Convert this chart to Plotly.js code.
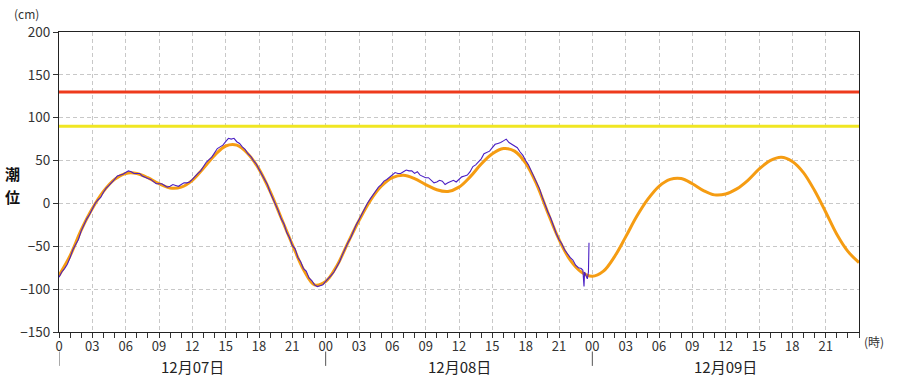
<!DOCTYPE html>
<html>
<head>
<meta charset="utf-8">
<script src="https://cdn.plot.ly/plotly-3.0.1.min.js"></script>
<style>html,body{margin:0;padding:0;background:#fff;}#chart{width:911px;height:381px;}</style>
</head>
<body>
<div id="chart"></div>
<script>
// hours from 12/07 00:00
const predHours = [0,1,2,3,4,5,6,7,8,9,10,11,12,13,14,15,16,17,18,19,20,21,22,23,24,25,26,27,28,29,30,31,32,33,34,35,36,37,38,39,40,41,42,43,44,45,46,47,48,49,50,51,52,53,54,55,56,57,58,59,60,61,62,63,64,65,66,67,68,69,70,71,72];
const predicted = [-84,-61,-31,-6,14,28,35,35,30,23,18,19,27,41,56,67,68,58,40,14,-17,-48,-77,-95,-91,-73,-46,-20,3,20,30,33,29,22,16,14,19,31,46,58,64,61,47,22,-11,-42,-66,-80,-85,-79,-62,-39,-15,5,20,28,29,23,15,10,11,17,27,40,50,54,49,36,15,-10,-36,-56,-69];

const obsHours = [
0,0.25,0.5,0.75,1,1.25,1.5,1.75,2,2.25,2.5,2.75,3,3.25,3.5,3.75,4,4.25,4.5,4.75,5,5.25,5.5,5.75,
6,6.25,6.5,6.75,7,7.25,7.5,7.75,8,8.25,8.5,8.75,9,9.25,9.5,9.75,10,10.25,10.5,10.75,11,11.25,11.5,11.75,
12,12.25,12.5,12.75,13,13.25,13.5,13.75,14,14.25,14.5,14.75,15,15.25,15.5,15.75,16,16.25,16.5,16.75,17,17.25,17.5,17.75,
18,18.25,18.5,18.75,19,19.25,19.5,19.75,20,20.25,20.5,20.75,21,21.25,21.5,21.75,22,22.25,22.5,22.75,23,23.25,23.5,23.75,
24,24.25,24.5,24.75,25,25.25,25.5,25.75,26,26.25,26.5,26.75,27,27.25,27.5,27.75,28,28.25,28.5,28.75,29,29.25,29.5,29.75,
30,30.25,30.5,30.75,31,31.25,31.5,31.75,32,32.25,32.5,32.75,33,33.25,33.5,33.75,34,34.25,34.5,34.75,35,35.25,35.5,35.75,
36,36.25,36.5,36.75,37,37.25,37.5,37.75,38,38.25,38.5,38.75,39,39.25,39.5,39.75,40,40.25,40.5,40.75,41,41.25,41.5,41.75,
42,42.25,42.5,42.75,43,43.25,43.5,43.75,44,44.25,44.5,44.75,45,45.25,45.5,45.75,46,46.25,46.5,46.75,
47,47.15,47.25,47.3,47.45,47.55,47.65,47.7];
const observed = [
-86,-80,-76,-71,-63,-54,-48,-42,-32,-24,-18,-13,-6,0,4,7,13,18,21,24,28,32,33,34,
36,38,37,35,35,35,32,30,29,28,26,23,23,23,21,19,20,22,21,20,22,24,24,25,
28,32,35,38,43,48,51,54,59,64,66,68,72,76,75,76,72,70,66,63,58,55,50,46,
40,34,27,22,13,6,-3,-9,-18,-24,-34,-40,-49,-53,-63,-68,-76,-79,-87,-90,-95,-97,-96,-95,
-91,-88,-84,-80,-74,-68,-60,-52,-46,-40,-32,-25,-19,-12,-6,0,5,10,14,19,22,26,28,31,
33,36,35,35,37,39,38,38,35,37,33,31,30,30,27,24,25,27,26,22,24,26,27,25,
28,31,32,33,37,43,45,48,52,58,60,61,65,69,70,71,73,75,71,69,66,65,60,56,
50,45,38,31,24,17,7,-2,-10,-17,-27,-35,-42,-47,-54,-59,-63,-66,-72,-75,
-76,-78,-97,-80,-85,-88,-80,-46];

const warnLevel = [130,130];
const cautionLevel = [90,90];
const levelHours = [0,72];

const tickVals = [0,3,6,9,12,15,18,21,24,27,30,33,36,39,42,45,48,51,54,57,60,63,66,69];
const tickText = ["0","03","06","09","12","15","18","21","00","03","06","09","12","15","18","21","00","03","06","09","12","15","18","21"];
const dayLabels = ["12月07日","12月08日","12月09日"];
const dayCenters = [12,36,60];
const dayStarts = [0,24,48];
const yTitleChars = ["潮","位"];

const traces = [
  {x: levelHours, y: warnLevel, mode:'lines', line:{color:'#ee3a1c', width:3}, hoverinfo:'skip'},
  {x: levelHours, y: cautionLevel, mode:'lines', line:{color:'#f0e622', width:3}, hoverinfo:'skip'},
  {x: predHours, y: predicted, mode:'lines', line:{color:'#f59c12', width:3, shape:'spline', smoothing:1}},
  {x: obsHours, y: observed, mode:'lines', line:{color:'#4a1fc4', width:1.1}}
];

const fam = '"Noto Sans CJK JP", "Noto Sans", sans-serif';
const font = {family:fam, size:13, color:'#333'};

const annotations = dayLabels.map((t,i)=>({
  x: dayCenters[i], y: -0.115, xref:'x', yref:'paper', text:t, showarrow:false,
  font:{family:fam, size:15, color:'#222'}, xanchor:'center', yanchor:'middle'
}));
yTitleChars.forEach((c,i)=>annotations.push({x:-0.058, y:0.527 - i*0.074, xref:'paper', yref:'paper',
  text:'<b>'+c+'</b>', showarrow:false, font:{family:fam, size:15, color:'#111'}, borderpad:0,
  xanchor:'center', yanchor:'middle'}));
annotations.push({xref:'paper', yref:'paper', x:-0.022, y:1.063, text:'(cm)', showarrow:false,
  font:{family:fam, size:12, color:'#333'}, xanchor:'right', yanchor:'middle'});
annotations.push({xref:'paper', yref:'paper', x:1.004, y:-0.033, text:'(時)', showarrow:false,
  font:{family:fam, size:12, color:'#333'}, xanchor:'left', yanchor:'middle'});

const shapes = dayStarts.map(h=>({type:'line', xref:'x', yref:'paper', x0:h, x1:h, y0:-0.065, y1:-0.113,
  line:{color:'#555', width:1}}));

const layout = {
  width:911, height:381,
  margin:{l:59, r:52, t:32, b:49},
  paper_bgcolor:'#fff', plot_bgcolor:'#fff',
  showlegend:false,
  font: font,
  xaxis:{range:[0,72], tickmode:'array', tickvals:tickVals, ticktext:tickText,
    ticks:'outside', ticklen:5, tickcolor:'#333', showline:true, linecolor:'#222', linewidth:1, mirror:true,
    showgrid:true, gridcolor:'#c8c8c8', griddash:'4px,3px', zeroline:false, ticklabelstandoff:-3,
    minor:{dtick:1, tick0:0, ticks:'outside', ticklen:5, tickcolor:'#333', showgrid:false},
    tickfont:{size:13, color:'#333'}, fixedrange:true},
  yaxis:{range:[-150,200], dtick:50, tick0:0, ticks:'outside', ticklen:5, tickcolor:'#333',
    showline:true, linecolor:'#222', linewidth:1, mirror:true,
    showgrid:true, gridcolor:'#c8c8c8', griddash:'4px,3px', zeroline:false,
    tickfont:{size:13.5, color:'#333'}, fixedrange:true},
  annotations: annotations,
  shapes: shapes
};

Plotly.newPlot('chart', traces, layout, {displayModeBar:false, staticPlot:true});
</script>
</body>
</html>
